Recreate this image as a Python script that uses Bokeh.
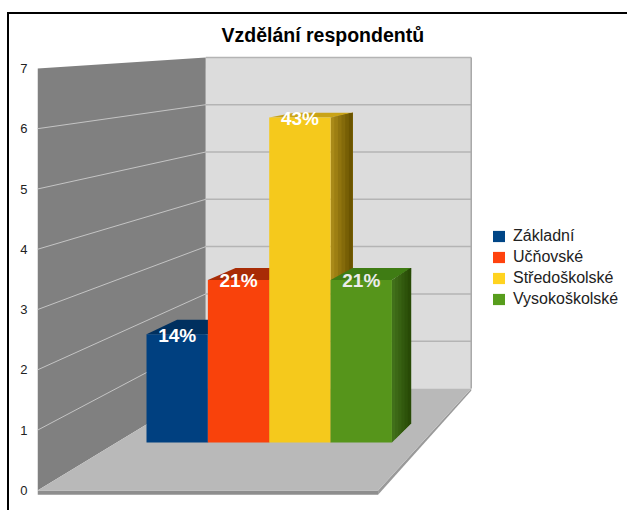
from bokeh.plotting import figure
from bokeh.models import Range1d, Legend, LegendItem, FixedTicker
from bokeh.core.properties import value
from bokeh.embed import file_html
from bokeh.resources import INLINE

categories = ["Základní", "Učňovské", "Středoškolské", "Vysokoškolské"]
counts = [2, 3, 6, 3]
percent_labels = ["14%", "21%", "43%", "21%"]
front_colors = ["#004080", "#f9420b", "#f5c91c", "#56951b"]
legend_colors = ["#004586", "#ff420e", "#ffd320", "#579d1c"]
top_colors = ["#00305f", "#a82c06", "#c9a316", "#3f7c14"]
side_start = ["#003c78", "#c03208", "#a98a18", "#41701a"]
side_end = ["#002a55", "#8a2404", "#6b5400", "#284a06"]
ticks = [0, 1, 2, 3, 4, 5, 6, 7]
title_text = "Vzdělání respondentů"

# projection of the 3D box to the page
F_L, F_R, B_L, B_R = 38, 378, 206, 471
F_Y0, B_Y0 = 490, 388
F_UNIT, B_UNIT = 60.3, 47.3
BAR_D0, BAR_D1 = 0.47, 0.66
BAR_U0, BAR_W = 0.098, 0.201
FRAME_TOP, FRAME_BOTTOM = 50, 512


def px(u, d):
    left = F_L + (B_L - F_L) * d
    right = F_R + (B_R - F_R) * d
    return left + (right - left) * u


def py(d, v):
    y0 = F_Y0 + (B_Y0 - F_Y0) * d
    unit = F_UNIT + (B_UNIT - F_UNIT) * d
    return (F_Y0 - (y0 - unit * v)) / F_UNIT


def mix(a, b, t):
    ca = [int(a[i:i + 2], 16) for i in (1, 3, 5)]
    cb = [int(b[i:i + 2], 16) for i in (1, 3, 5)]
    return "#%02x%02x%02x" % tuple(round(x + (y - x) * t) for x, y in zip(ca, cb))


p = figure(
    width=620, height=498, output_backend="svg", toolbar_location=None,
    x_range=Range1d(38, 629),
    y_range=Range1d((F_Y0 - FRAME_BOTTOM) / F_UNIT, (F_Y0 - FRAME_TOP) / F_UNIT),
    min_border_left=28, min_border_right=0, min_border_bottom=0, min_border_top=36,
    x_axis_location=None, background_fill_color="#ffffff", border_fill_color="#ffffff",
    margin=(12, 0, 0, 7),
    styles={"border-left": "2px solid #000000", "border-top": "2px solid #000000"},
)
p.outline_line_color = None
p.grid.visible = False

p.title.text = title_text
p.title.align = "left"
p.title.offset = 184
p.title.text_font = "Liberation Sans"
p.title.text_font_size = "19.5px"
p.title.text_font_style = "bold"
p.title.text_color = "#000000"
p.title.standoff = 9

ax = p.yaxis[0]
ax.ticker = FixedTicker(ticks=ticks)
ax.axis_line_color = None
ax.major_tick_line_color = None
ax.major_tick_out = 0
ax.minor_tick_line_color = None
ax.major_label_standoff = 10
ax.major_label_text_font = "Liberation Sans"
ax.major_label_text_font_size = "13px"
ax.major_label_text_color = "#222222"

top_v = ticks[-1]
# left wall
p.patch([px(0, 0), px(0, 1), px(0, 1), px(0, 0)], [py(0, 0), py(1, 0), py(1, top_v), py(0, top_v)],
        fill_color="#808080", line_color=None)
# back wall
p.patch([px(0, 1), px(1, 1), px(1, 1), px(0, 1)], [py(1, 0), py(1, 0), py(1, top_v), py(1, top_v)],
        fill_color="#dcdcdc", line_color=None)
# floor slab
p.patch([px(0, 0), px(1, 0), px(1, 0), px(0, 0)], [py(0, 0), py(0, 0), py(0, -0.07), py(0, -0.07)],
        fill_color="#8e8e8e", line_color=None)
p.patch([px(1, 0), px(1, 1), px(1, 1), px(1, 0)], [py(0, 0), py(1, 0), py(1, -0.05), py(0, -0.07)],
        fill_color="#9a9a9a", line_color=None)
p.patch([px(0, 0), px(1, 0), px(1, 1), px(0, 1)], [py(0, 0), py(0, 0), py(1, 0), py(1, 0)],
        fill_color="#b9b9b9", line_color=None)

# gridlines
for t in ticks[1:]:
    p.line([px(0, 1), px(1, 1)], [py(1, t), py(1, t)], line_color="#b4b4b4", line_width=1.5)
    if t < top_v:
        p.line([px(0, 0), px(0, 1)], [py(0, t), py(1, t)], line_color="#c4c4c4", line_width=1)
p.line([px(1, 1), px(1, 1)], [py(1, 0), py(1, top_v)], line_color="#a8a8a8", line_width=1.5)

# bars
items = []
for i, (c, lab) in enumerate(zip(counts, categories)):
    u0, u1 = BAR_U0 + i * BAR_W, BAR_U0 + (i + 1) * BAR_W
    p.patch([px(u0, BAR_D0), px(u1, BAR_D0), px(u1, BAR_D1), px(u0, BAR_D1)],
            [py(BAR_D0, c), py(BAR_D0, c), py(BAR_D1, c), py(BAR_D1, c)],
            fill_color=top_colors[i], line_color=None)
    n = 6
    for k in range(n):
        d0 = BAR_D0 + (BAR_D1 - BAR_D0) * k / n
        d1 = BAR_D1
        col = mix(side_start[i], side_end[i], k / (n - 1))
        p.patch([px(u1, d0), px(u1, d1), px(u1, d1), px(u1, d0)],
                [py(d0, 0), py(d1, 0), py(d1, c), py(d0, c)], fill_color=col, line_color=None)
    p.quad(left=[px(u0, BAR_D0)], right=[px(u1, BAR_D0)], bottom=[py(BAR_D0, 0)], top=[py(BAR_D0, c)],
           fill_color=front_colors[i], line_color=None)
    swatch = p.quad(left=[px(u0, BAR_D0)], right=[px(u0, BAR_D0)], bottom=[py(BAR_D0, 0)], top=[py(BAR_D0, 0)],
                    fill_color=legend_colors[i], line_color=None)
    items.append(LegendItem(label=lab, renderers=[swatch]))

# data labels
for i, (c, t) in enumerate(zip(counts, percent_labels)):
    uc = BAR_U0 + (i + 0.5) * BAR_W
    p.text([px(uc, BAR_D0)], [py(BAR_D0, c)], text=[t], text_color="#ffffff" if i < 3 else "#ececec",
           text_font=value("Liberation Sans"), text_font_size="19px", text_font_style="bold",
           text_align="center", text_baseline="middle", y_offset=1)

legend = Legend(items=items, location=(454, 204), orientation="vertical", margin=0, padding=0, spacing=3,
                glyph_width=15, glyph_height=14, label_height=13, label_standoff=7, label_width=100,
                label_text_font="Liberation Sans", label_text_font_size="16px", label_text_color="#222222",
                background_fill_alpha=0, border_line_color=None)
p.add_layout(legend)

open("out.html", "w").write(file_html(p, INLINE))
